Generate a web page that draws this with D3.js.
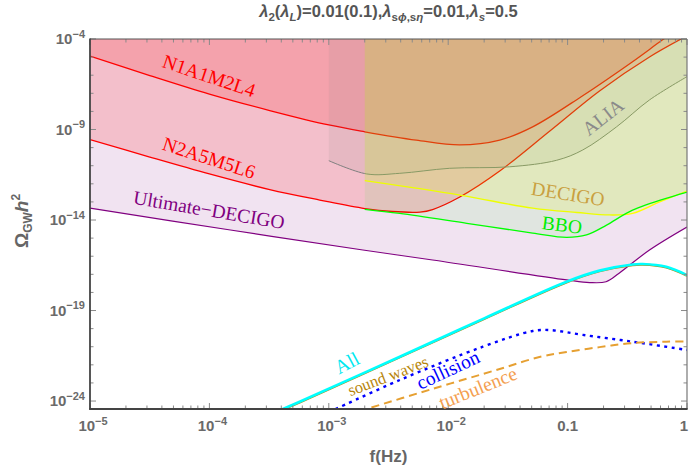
<!DOCTYPE html>
<html>
<head>
<meta charset="utf-8">
<script src="https://cdn.jsdelivr.net/npm/d3@7"></script>
<style>
  body { margin: 0; background: #fff; }
  svg { display: block; }
</style>
</head>
<body>
<svg id="chart" width="689" height="472"></svg>
<script>
// ---- Sensitivity curves (frequency in Hz, Omega_GW h^2) ----
const freqUD    = [1e-5, 1.5e-4, 1.93e-3, 7.4e-3, 0.098, 0.153, 0.21, 0.27, 0.485, 1];
const omegaUD   = [4.5e-14, 2.8e-15, 2.2e-16, 6.2e-17, 4.9e-18, 3.5e-18, 3.9e-18, 1.15e-17, 2.2e-16, 4.1e-15];

const freqN2    = [1e-5, 3.17e-5, 1e-4, 3.2e-4, 8.4e-4, 2e-3, 3.4e-3, 5.8e-3, 7.4e-3, 0.0125, 0.027, 0.071, 0.185, 0.485, 1];
const omegaN2   = [2.8e-10, 3.0e-11, 3.5e-12, 4.8e-13, 1.27e-13, 4.3e-14, 2.95e-14, 2.75e-14, 3.8e-14, 1.86e-13, 5.1e-12, 8.3e-10, 1.35e-7, 1.02e-5, 1.5e-4];

const freqN1    = [1e-5, 3.17e-5, 1e-4, 3.2e-4, 1e-3, 2e-3, 5.4e-3, 0.0125, 0.027, 0.051, 0.13, 0.35, 0.62, 1];
const omegaN1   = [1.15e-5, 9.6e-7, 9.1e-8, 1.12e-8, 1.78e-9, 7.5e-10, 2.6e-10, 1.4e-10, 2.6e-10, 1.4e-9, 6.5e-8, 5.6e-6, 8.7e-5, 7.9e-4];

const freqALIA  = [1e-3, 2.08e-3, 3.93e-3, 0.0103, 0.0327, 0.081, 0.134, 0.257, 0.485, 1];
const omegaALIA = [1.9e-11, 3.5e-12, 3.8e-12, 7.2e-12, 8.7e-12, 2.0e-11, 7.4e-11, 1.4e-9, 4.3e-8, 8.3e-7];

const freqDEC   = [2e-3, 0.0125, 0.051, 0.12, 0.224, 0.35, 0.59, 1];
const omegaDEC  = [1.5e-12, 2.4e-13, 4.5e-14, 2.6e-14, 1.9e-14, 2.3e-14, 1.0e-13, 4.0e-13];

const freqBBO   = [2e-3, 3.93e-3, 0.0143, 0.051, 0.098, 0.144, 0.212, 0.35, 1];
const omegaBBO  = [3.9e-14, 2.3e-14, 6.6e-15, 1.9e-15, 1.1e-15, 1.5e-15, 5.2e-15, 3.5e-14, 3.5e-13];

// ---- Phase-transition signal spectra ----
const freqAll    = [3e-4, 5.7e-4, 3.93e-3, 0.02, 0.098, 0.185, 0.35, 0.425, 0.67, 1];
const omegaAll   = [1.5e-25, 9.1e-25, 2.8e-22, 3.7e-20, 3.9e-18, 1.6e-17, 3.5e-17, 3.7e-17, 2.6e-17, 9.1e-18];
const omegaSW    = [1.4e-25, 8.4e-25, 2.6e-22, 3.4e-20, 3.6e-18, 1.47e-17, 3.2e-17, 3.4e-17, 2.4e-17, 8.4e-18];

const freqColl   = [1e-3, 3.93e-3, 0.0195, 0.051, 0.071, 0.134, 0.35, 1];
const omegaColl  = [2.4e-25, 1.45e-23, 1e-21, 7.4e-21, 8.3e-21, 4.5e-21, 1.9e-21, 6.6e-22];

const freqTurb   = [1.8e-3, 7.4e-3, 0.027, 0.058, 0.098, 0.185, 0.35, 0.67, 1];
const omegaTurb  = [2.75e-25, 4.7e-24, 5.9e-23, 2.7e-22, 5.1e-22, 9.5e-22, 1.6e-21, 1.9e-21, 1.95e-21];

// ---- Axis ticks ----
const xMajorTicks = [1e-5, 1e-4, 1e-3, 1e-2, 0.1, 1];
const xTickLabels = [["10", "−5"], ["10", "−4"], ["10", "−3"], ["10", "−2"], ["0.1", ""], ["1", ""]];
const yMajorTicks = [1e-4, 1e-9, 1e-14, 1e-19, 1e-24];
const yTickLabels = [["10", "−4"], ["10", "−9"], ["10", "−14"], ["10", "−19"], ["10", "−24"]];

// ---- Layout ----
const svg = d3.select("#chart");
const plot = { left: 90, right: 687, top: 39, bottom: 409 };
const x = d3.scaleLog().domain([1e-5, 1]).range([plot.left, plot.right]);
const y = d3.scaleLog().domain([Math.pow(10, -24.44), 1e-4]).range([plot.bottom, plot.top]);

const zip = (f, o) => f.map((v, i) => [v, o[i]]);

svg.append("defs").append("clipPath").attr("id", "plotClip")
  .append("rect")
  .attr("x", plot.left).attr("y", plot.top)
  .attr("width", plot.right - plot.left).attr("height", plot.bottom - plot.top);

const g = svg.append("g").attr("clip-path", "url(#plotClip)");

const curve = d3.curveCatmullRom.alpha(0.5);
const line = d3.line().x(d => x(d[0])).y(d => y(d[1])).curve(curve);
const areaAbove = d3.area().x(d => x(d[0])).y0(plot.top - 10).y1(d => y(d[1])).curve(curve);

// Detector regions: each one shades everything above its sensitivity curve
const detectors = [
  { f: freqUD,   o: omegaUD,   fill: "#800080", op: 0.11,  stroke: "#800080", w: 1.2 },
  { f: freqN2,   o: omegaN2,   fill: "#ff0000", op: 0.155, stroke: "#ff0000", w: 1.3 },
  { f: freqN1,   o: omegaN1,   fill: "#ff0000", op: 0.15,  stroke: "#ff0000", w: 1.3 },
  { f: freqALIA, o: omegaALIA, fill: "#808080", op: 0.11,  stroke: "#808080", w: 1.0 },
  { f: freqDEC,  o: omegaDEC,  fill: "#ffff00", op: 0.15,  stroke: "#ffff00", w: 1.3 },
  { f: freqBBO,  o: omegaBBO,  fill: "#00ff00", op: 0.07,  stroke: "#00ff00", w: 1.3 }
];

detectors.forEach(d => {
  const pts = zip(d.f, d.o);
  g.append("path").attr("d", areaAbove(pts))
    .attr("fill", d.fill).attr("fill-opacity", d.op).attr("stroke", "none");
  g.append("path").attr("d", line(pts))
    .attr("fill", "none").attr("stroke", d.stroke).attr("stroke-width", d.w);
});

// Signal spectra
g.append("path").attr("d", line(zip(freqAll, omegaSW)))
  .attr("fill", "none").attr("stroke", "#b8860b").attr("stroke-width", 2.2);
g.append("path").attr("d", line(zip(freqAll, omegaAll)))
  .attr("fill", "none").attr("stroke", "#00ffff").attr("stroke-width", 2.6);
g.append("path").attr("d", line(zip(freqColl, omegaColl)))
  .attr("fill", "none").attr("stroke", "#0000ff").attr("stroke-width", 2.4)
  .attr("stroke-dasharray", "3,4.5");
g.append("path").attr("d", line(zip(freqTurb, omegaTurb)))
  .attr("fill", "none").attr("stroke", "#e6a032").attr("stroke-width", 2)
  .attr("stroke-dasharray", "8,5");

// ---- Frame and ticks ----
const tickColor = "#8a8a8a";
const ticks = svg.append("g").attr("stroke", tickColor).attr("stroke-width", 1);

const xMinor = [];
for (let e = -5; e < 0; e++) for (let m = 2; m <= 9; m++) xMinor.push(m * Math.pow(10, e));
xMajorTicks.forEach(t => {
  const px = x(t);
  ticks.append("line").attr("x1", px).attr("x2", px).attr("y1", plot.bottom).attr("y2", plot.bottom - 6);
  ticks.append("line").attr("x1", px).attr("x2", px).attr("y1", plot.top).attr("y2", plot.top + 6);
});
xMinor.forEach(t => {
  const px = x(t);
  ticks.append("line").attr("x1", px).attr("x2", px).attr("y1", plot.bottom).attr("y2", plot.bottom - 3.5);
  ticks.append("line").attr("x1", px).attr("x2", px).attr("y1", plot.top).attr("y2", plot.top + 3.5);
});

const yMinor = [];
for (let e = -24; e <= -4; e++) if ((e + 4) % 5 !== 0) yMinor.push(Math.pow(10, e));
yMajorTicks.forEach(t => {
  const py = y(t);
  ticks.append("line").attr("x1", plot.left).attr("x2", plot.left + 6).attr("y1", py).attr("y2", py);
  ticks.append("line").attr("x1", plot.right).attr("x2", plot.right - 6).attr("y1", py).attr("y2", py);
});
yMinor.forEach(t => {
  const py = y(t);
  ticks.append("line").attr("x1", plot.left).attr("x2", plot.left + 3.5).attr("y1", py).attr("y2", py);
  ticks.append("line").attr("x1", plot.right).attr("x2", plot.right - 3.5).attr("y1", py).attr("y2", py);
});

// frame
svg.append("line").attr("x1", plot.left).attr("x2", plot.right).attr("y1", plot.top).attr("y2", plot.top)
  .attr("stroke", "#555").attr("stroke-width", 1.2);
svg.append("line").attr("x1", plot.right).attr("x2", plot.right).attr("y1", plot.top).attr("y2", plot.bottom)
  .attr("stroke", "#777").attr("stroke-width", 1.2);
svg.append("line").attr("x1", plot.left).attr("x2", plot.left).attr("y1", plot.top - 0.6).attr("y2", plot.bottom + 0.8)
  .attr("stroke", "#444").attr("stroke-width", 1.8);
svg.append("line").attr("x1", plot.left - 0.8).attr("x2", plot.right + 0.6).attr("y1", plot.bottom).attr("y2", plot.bottom)
  .attr("stroke", "#444").attr("stroke-width", 1.8);

// ---- Tick labels ----
const labelFont = "'Liberation Sans', Arial, Helvetica, sans-serif";
const tickLabelColor = "#6a6a6a";

function powerLabel(sel, base, exp) {
  sel.append("tspan").text(base);
  if (exp) sel.append("tspan").attr("dy", -6.5).attr("font-size", 11).text(exp);
}

xMajorTicks.forEach((t, i) => {
  const [base, exp] = xTickLabels[i];
  const last = i === xMajorTicks.length - 1;
  const txt = svg.append("text")
    .attr("x", x(t) + (exp ? 3 : 0) - (last ? 3 : 0)).attr("y", 431)
    .attr("text-anchor", "middle")
    .attr("font-family", labelFont).attr("font-weight", "bold")
    .attr("font-size", 15).attr("fill", tickLabelColor);
  powerLabel(txt, base, exp);
});

yMajorTicks.forEach((t, i) => {
  const [base, exp] = yTickLabels[i];
  const txt = svg.append("text")
    .attr("x", 85).attr("y", y(t) + 5)
    .attr("text-anchor", "end")
    .attr("font-family", labelFont).attr("font-weight", "bold")
    .attr("font-size", 15).attr("fill", tickLabelColor);
  powerLabel(txt, base, exp);
});

// ---- Axis titles ----
svg.append("text")
  .attr("x", (plot.left + plot.right) / 2).attr("y", 462)
  .attr("text-anchor", "middle")
  .attr("font-family", labelFont).attr("font-weight", "bold")
  .attr("font-size", 17).attr("fill", "#666")
  .text("f(Hz)");

const yTitle = svg.append("text")
  .attr("transform", "translate(28,221) rotate(-90)")
  .attr("text-anchor", "middle")
  .attr("font-family", labelFont).attr("font-weight", "bold")
  .attr("font-size", 19).attr("fill", "#666");
yTitle.append("tspan").text("Ω");
yTitle.append("tspan").attr("dy", 4).attr("font-size", 12).text("GW");
yTitle.append("tspan").attr("dy", -4).attr("font-style", "italic").text("h");
yTitle.append("tspan").attr("dy", -8).attr("font-size", 12).text("2");

// ---- Chart title ----
const title = svg.append("text")
  .attr("x", (plot.left + plot.right) / 2).attr("y", 17)
  .attr("text-anchor", "middle")
  .attr("font-family", labelFont).attr("font-weight", "bold")
  .attr("font-size", 16.5).attr("fill", "#555");
const sub = (s, italic) => title.append("tspan").attr("dy", 4).attr("font-size", 11.5)
  .attr("font-style", italic ? "italic" : "normal").text(s);
const back = () => title.append("tspan").attr("dy", -4);
title.append("tspan").attr("font-style", "italic").text("λ");
sub("2"); back().text("(");
title.append("tspan").attr("font-style", "italic").text("λ");
sub("L", true); back().text(")=0.01(0.1),");
title.append("tspan").attr("font-style", "italic").text("λ");
title.append("tspan").attr("dy", 4).attr("font-size", 11.5).text("s");
title.append("tspan").attr("font-size", 11.5).attr("font-style", "italic").text("ϕ");
title.append("tspan").attr("font-size", 11.5).text(",s");
title.append("tspan").attr("font-size", 11.5).attr("font-style", "italic").text("η");
back().text("=0.01,");
title.append("tspan").attr("font-style", "italic").text("λ");
sub("s", true); back().text("=0.5");

// ---- Curve labels ----
const serif = "'Liberation Serif', 'Times New Roman', Times, serif";
const curveLabels = [
  { t: "N1A1M2L4",        x: 209, y: 76,  a: 18.5, c: "#ff0000", s: 19.5 },
  { t: "N2A5M5L6",        x: 209, y: 158, a: 18,   c: "#ff0000", s: 19.5 },
  { t: "Ultimate−DECIGO", x: 209, y: 210, a: 9.5,  c: "#800080", s: 19.5 },
  { t: "ALIA",            x: 603, y: 117, a: -38,  c: "#8a8a8a", s: 19.5 },
  { t: "DECIGO",          x: 568, y: 194, a: 9,    c: "#c9a040", s: 19.5 },
  { t: "BBO",             x: 562, y: 225, a: 7,    c: "#00ee00", s: 19.5 },
  { t: "All",             x: 347, y: 363, a: -28,  c: "#00e8f0", s: 19.5 },
  { t: "sound waves",     x: 388, y: 376, a: -21,  c: "#b8860b", s: 16.5 },
  { t: "collision",       x: 448, y: 370, a: -25,  c: "#0000ff", s: 19.5 },
  { t: "turbulence",      x: 478, y: 388, a: -22,  c: "#f4a050", s: 19.5 }
];
curveLabels.forEach(l => {
  svg.append("text")
    .attr("transform", `translate(${l.x},${l.y}) rotate(${l.a})`)
    .attr("text-anchor", "middle").attr("dominant-baseline", "central")
    .attr("font-family", serif).attr("font-size", l.s)
    .attr("fill", l.c)
    .text(l.t);
});
</script>
</body>
</html>
